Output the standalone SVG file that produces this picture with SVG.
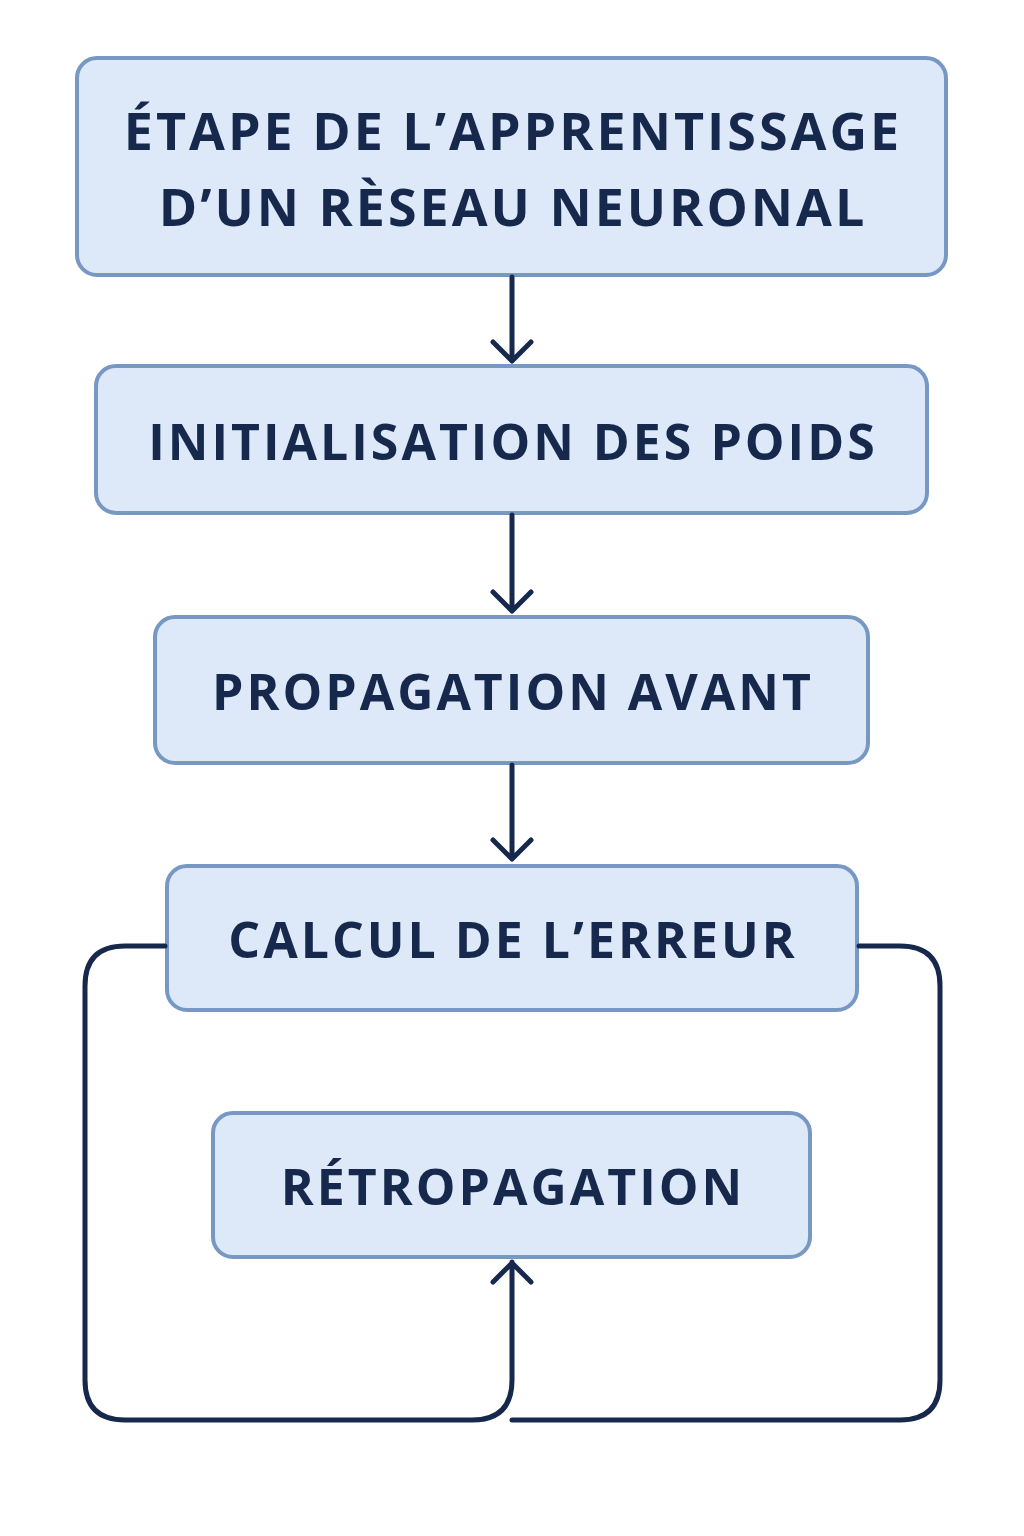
<svg xmlns="http://www.w3.org/2000/svg" width="1024" height="1536" viewBox="0 0 1024 1536">
<style>
.box{fill:#dde8f8;stroke:#7898c4;stroke-width:4}
.t{font-family:"Open Sans","Liberation Sans",sans-serif;font-weight:bold;fill:#16294d;text-anchor:middle;letter-spacing:3px}
.c{fill:none;stroke:#16294d;stroke-width:5;stroke-linecap:round;stroke-linejoin:round}
</style>
<rect width="1024" height="1536" fill="#fff"/>
<g id="n1"><rect class="box" x="77" y="58" width="869" height="217" rx="20"/>
<text class="t" x="513" y="150" font-size="52">ÉTAPE DE L’APPRENTISSAGE</text>
<text class="t" x="513" y="226" font-size="52">D’UN RÈSEAU NEURONAL</text></g>
<g id="n2"><rect class="box" x="96" y="366" width="831" height="147" rx="20"/>
<text class="t" x="513" y="460" font-size="50">INITIALISATION DES POIDS</text></g>
<g id="n3"><rect class="box" x="155" y="617" width="713" height="146" rx="20"/>
<text class="t" x="513" y="710" font-size="50">PROPAGATION AVANT</text></g>
<g id="n4"><rect class="box" x="167" y="866" width="690" height="144" rx="20"/>
<text class="t" x="513" y="958" font-size="50">CALCUL DE L’ERREUR</text></g>
<g id="n5"><rect class="box" x="213" y="1113" width="597" height="144" rx="20"/>
<text class="t" x="513" y="1205" font-size="50">RÉTROPAGATION</text></g>
<g id="connectors">
<path class="c" d="M512 277V360M493 342L512 361L531 342"/>
<path class="c" d="M512 515V610M493 592L512 611L531 592"/>
<path class="c" d="M512 765V858M493 840L512 859L531 840"/>
<path class="c" d="M165 946H125Q85 946 85 986V1380Q85 1420 125 1420H472Q512 1420 512 1380V1262M493 1282L512 1263L531 1282"/>
<path class="c" d="M859 946H900Q940 946 940 986V1380Q940 1420 900 1420H512"/>
</g>
</svg>
